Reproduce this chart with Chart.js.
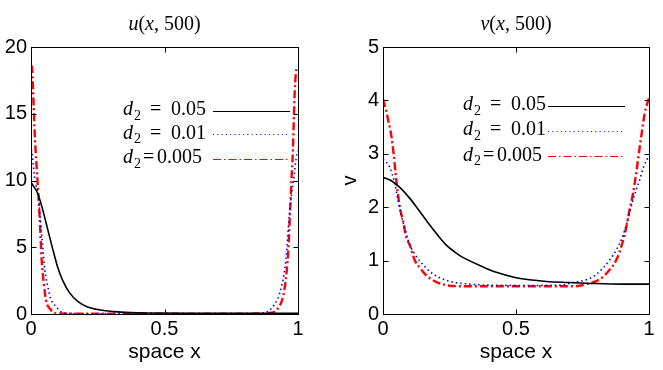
<!DOCTYPE html>
<html>
<head>
<meta charset="utf-8">
<script src="https://cdn.jsdelivr.net/npm/chart.js@4.4.0/dist/chart.umd.min.js"></script>
<style>
  html, body { margin: 0; padding: 0; background: #fff; }
  #sahne { position: relative; width: 663px; height: 370px; }
  canvas { position: absolute; top: 0; }
  #grafikU { left: 0; }
  #grafikV { left: 331px; }
</style>
</head>
<body>
<div id="sahne">
  <canvas id="grafikU" width="331" height="370"></canvas>
  <canvas id="grafikV" width="332" height="370"></canvas>
</div>
<script>
// eksen tikleri
const xTikleri = [0, 0.5, 1];
const uTikleri = [0, 5, 10, 15, 20];
const vTikleri = [0, 1, 2, 3, 4, 5];
const d2Degerleri = ["0.05", "0.01", "0.005"];
const basliklar = ["u", "v"];

// u(x,500) - d2 = 0.05
const uX_05 = [0, 0.025, 0.044, 0.063, 0.081, 0.1, 0.119, 0.144, 0.175, 0.21, 0.26, 0.31, 0.37, 0.45, 0.6, 0.8, 1];
const uY_05 = [9.85, 9.05, 7.8, 6.3, 4.9, 3.5, 2.5, 1.6, 0.95, 0.55, 0.3, 0.18, 0.1, 0.07, 0.06, 0.06, 0.06];
// u(x,500) - d2 = 0.01
const uX_01 = [0, 0.003, 0.013, 0.029, 0.035, 0.044, 0.052, 0.063, 0.073, 0.094, 0.112, 0.14, 0.2, 0.5, 0.8, 0.865, 0.888, 0.906, 0.925, 0.938, 0.95, 0.959, 0.966, 0.975, 0.985, 0.996, 1];
const uY_01 = [12.3, 12.2, 10.3, 8.55, 7.05, 5.05, 3.3, 2.05, 1.18, 0.55, 0.17, 0.05, 0.02, 0.02, 0.02, 0.05, 0.2, 0.55, 1.18, 2.05, 3.3, 5.05, 7.05, 8.8, 10.3, 12.05, 12.2];
// u(x,500) - d2 = 0.005
const uX_005 = [0, 0.003, 0.01, 0.015, 0.021, 0.028, 0.034, 0.04, 0.048, 0.056, 0.075, 0.094, 0.2, 0.5, 0.8, 0.9, 0.925, 0.944, 0.954, 0.963, 0.969, 0.975, 0.981, 0.985, 0.988, 0.994, 1];
const uY_005 = [18.6, 18.55, 15.55, 13.05, 11.05, 8.8, 6.55, 4.05, 2.3, 1.05, 0.3, 0.05, 0.02, 0.02, 0.02, 0.1, 0.42, 1.3, 2.55, 4.55, 7.05, 9.8, 12.3, 15.05, 16.8, 18.3, 18.5];

// v(x,500) - d2 = 0.05
const vX_05 = [0, 0.03, 0.063, 0.1, 0.125, 0.15, 0.175, 0.2, 0.238, 0.27, 0.3, 0.364, 0.426, 0.5, 0.55, 0.614, 0.7, 0.8, 0.9, 1];
const vY_05 = [2.56, 2.5, 2.37, 2.17, 2.01, 1.84, 1.67, 1.51, 1.29, 1.16, 1.06, 0.91, 0.78, 0.68, 0.64, 0.61, 0.59, 0.57, 0.56, 0.56];
// v(x,500) - d2 = 0.01
const vX_01 = [0, 0.025, 0.044, 0.056, 0.069, 0.088, 0.1, 0.125, 0.144, 0.175, 0.213, 0.26, 0.326, 0.4, 0.55, 0.664, 0.715, 0.752, 0.79, 0.827, 0.852, 0.877, 0.896, 0.915, 0.927, 0.94, 0.952, 0.965, 0.98, 1];
const vY_01 = [2.9, 2.75, 2.45, 2.15, 1.85, 1.5, 1.3, 1.08, 0.96, 0.8, 0.68, 0.6, 0.56, 0.54, 0.535, 0.54, 0.59, 0.625, 0.7, 0.86, 1.01, 1.2, 1.39, 1.67, 1.89, 2.14, 2.33, 2.51, 2.76, 2.97];
// v(x,500) - d2 = 0.005
const vX_005 = [0, 0.01, 0.02, 0.031, 0.04, 0.048, 0.056, 0.065, 0.075, 0.088, 0.1, 0.12, 0.138, 0.163, 0.2, 0.238, 0.3, 0.5, 0.72, 0.777, 0.815, 0.852, 0.877, 0.9, 0.915, 0.927, 0.94, 0.952, 0.962, 0.971, 0.984, 1];
const vY_005 = [4.02, 3.85, 3.62, 3.35, 3.0, 2.6, 2.25, 1.95, 1.75, 1.42, 1.3, 1.0, 0.87, 0.72, 0.6, 0.54, 0.52, 0.52, 0.52, 0.575, 0.65, 0.83, 1.01, 1.33, 1.64, 1.95, 2.26, 2.64, 3.01, 3.33, 3.76, 4.05];

function noktalar(xs, ys) {
  return xs.map((x, i) => ({ x: x, y: ys[i] }));
}

// çizgi stilleri: siyah düz, mavi noktalı, kırmızı kesik-nokta
const stiller = [
  { renk: "#000000", kalinlik: 1.6, kesik: [], lejantKesik: [] },
  { renk: "#0000ff", kalinlik: 1.6, kesik: [1.5, 3], lejantKesik: [1, 3.3] },
  { renk: "#ff0000", kalinlik: 2.4, kesik: [8, 3, 2, 3], lejantKesik: [8, 3, 1.5, 3] }
];

const SERIF = "'Liberation Serif', 'DejaVu Serif', serif";
Chart.defaults.font.family = "'Liberation Sans', Arial, sans-serif";
Chart.defaults.color = "#000";

function parcaliYaz(ctx, parcalar, x, y, merkez) {
  let toplam = 0;
  parcalar.forEach(p => { ctx.font = p[1]; toplam += ctx.measureText(p[0]).width; });
  let cx = merkez ? x - toplam / 2 : x;
  parcalar.forEach(p => {
    ctx.font = p[1];
    ctx.fillText(p[0], cx, y + (p[2] || 0));
    cx += ctx.measureText(p[0]).width;
  });
}

// MATLAB tarzı çerçeve, içe dönük tikler, başlık ve lejant
const matlabEklenti = {
  id: "matlabCizim",
  afterDatasetsDraw(chart, args, opts) {
    const { ctx, chartArea: a } = chart;
    const sx = chart.scales.x, sy = chart.scales.y;
    const L = Math.round(a.left) + 0.5, R = Math.round(a.right) + 0.5;
    const T = Math.round(a.top) + 0.5, B = Math.round(a.bottom) + 0.5;
    ctx.save();
    ctx.strokeStyle = "#000";
    ctx.lineWidth = 1;
    ctx.setLineDash([]);
    ctx.strokeRect(L, T, R - L, B - T);
    ctx.beginPath();
    xTikleri.forEach(v => {
      const px = Math.round(sx.getPixelForValue(v)) + 0.5;
      ctx.moveTo(px, B); ctx.lineTo(px, B - 5);
      ctx.moveTo(px, T); ctx.lineTo(px, T + 5);
    });
    sy.ticks.forEach(t => {
      const py = Math.round(sy.getPixelForValue(t.value)) + 0.5;
      ctx.moveTo(L, py); ctx.lineTo(L + 5, py);
      ctx.moveTo(R, py); ctx.lineTo(R - 5, py);
    });
    ctx.stroke();

    // başlık: u(x,500) / v(x,500)
    ctx.fillStyle = "#000";
    ctx.textBaseline = "alphabetic";
    const it = "italic 20px " + SERIF, dz = "20px " + SERIF;
    parcaliYaz(ctx, [[opts.baslik, it], ["(", dz], ["x", it], [", 500)", dz]], (a.left + a.right) / 2, 30, true);

    // lejant
    d2Degerleri.forEach((d, i) => {
      const y = opts.satirlar[i];
      const sikisik = d.length > 4;
      const x0 = opts.yaziX;
      ctx.fillStyle = "#000";
      ctx.font = it; ctx.fillText("d", x0, y + 4.5);
      ctx.font = "14px " + SERIF; ctx.fillText("2", x0 + 11, y + 9);
      ctx.font = dz;
      ctx.fillText("=", x0 + (sikisik ? 20 : 27), y + 4.5);
      ctx.fillText(d, x0 + (sikisik ? 34 : 48), y + 4.5);
      const s = stiller[i];
      ctx.strokeStyle = s.renk;
      ctx.lineWidth = 1;
      ctx.setLineDash(s.lejantKesik);
      ctx.beginPath();
      ctx.moveTo(opts.cizgiBas, Math.round(y) + 0.5);
      ctx.lineTo(opts.cizgiSon, Math.round(y) + 0.5);
      ctx.stroke();
    });
    ctx.restore();
  }
};

function grafikOlustur(id, seriler, yTikler, ayar) {
  new Chart(document.getElementById(id), {
    type: "scatter",
    data: {
      datasets: seriler.map((veri, i) => ({
        data: veri,
        showLine: true,
        pointRadius: 0,
        borderColor: stiller[i].renk,
        borderWidth: stiller[i].kalinlik,
        borderDash: stiller[i].kesik,
        cubicInterpolationMode: "monotone"
      }))
    },
    options: {
      responsive: false,
      animation: false,
      layout: { padding: { top: 47, right: ayar.sagBosluk, left: 0, bottom: 0 } },
      plugins: {
        legend: { display: false },
        tooltip: { enabled: false },
        matlabCizim: ayar.eklenti
      },
      scales: {
        x: {
          type: "linear", min: 0, max: 1,
          grid: { display: false, drawTicks: false, tickLength: 0 }, border: { display: false },
          afterBuildTicks: s => { s.ticks = xTikleri.map(v => ({ value: v })); },
          ticks: { font: { size: 20 }, padding: 3, maxRotation: 0, callback: v => String(v) },
          title: { display: true, text: "space x", font: { size: 21 }, padding: { top: 0, bottom: 5 } },
          afterFit: s => { s.height = 56; }
        },
        y: {
          type: "linear", min: 0, max: yTikler[yTikler.length - 1],
          grid: { display: false, drawTicks: false, tickLength: 0 }, border: { display: false },
          afterBuildTicks: s => { s.ticks = yTikler.map(v => ({ value: v })); },
          ticks: { font: { size: 20 }, padding: 4, callback: v => String(v) },
          title: { display: !!ayar.yBaslik, text: ayar.yBaslik || "", font: { size: 20 }, padding: { top: 7, bottom: 0 } },
          afterFit: s => { s.width = ayar.yGenislik; }
        }
      }
    },
    plugins: [matlabEklenti]
  });
}

grafikOlustur("grafikU",
  [noktalar(uX_05, uY_05), noktalar(uX_01, uY_01), noktalar(uX_005, uY_005)],
  uTikleri,
  {
    sagBosluk: 33, yGenislik: 31,
    eklenti: { baslik: basliklar[0], satirlar: [110.7, 134, 158.5], yaziX: 123, cizgiBas: 213, cizgiSon: 290 }
  });

grafikOlustur("grafikV",
  [noktalar(vX_05, vY_05), noktalar(vX_01, vY_01), noktalar(vX_005, vY_005)],
  vTikleri,
  {
    sagBosluk: 14, yGenislik: 52, yBaslik: "v",
    eklenti: { baslik: basliklar[1], satirlar: [105.7, 130.5, 156], yaziX: 132, cizgiBas: 217, cizgiSon: 294 }
  });
</script>
</body>
</html>
